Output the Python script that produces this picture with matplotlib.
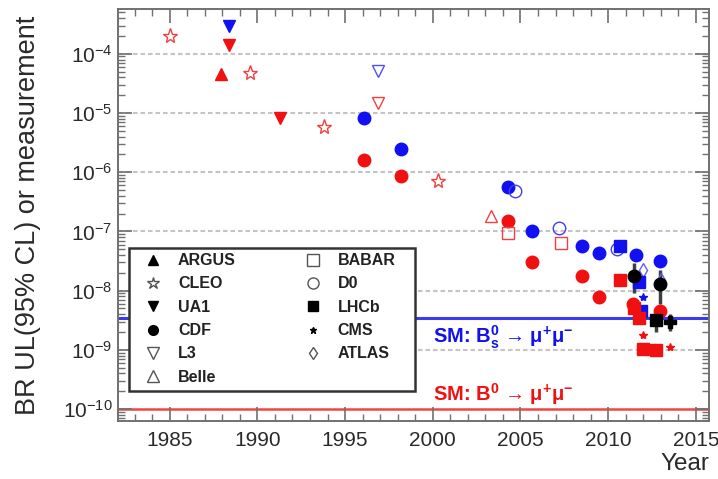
import matplotlib
matplotlib.use("Agg")
import matplotlib.pyplot as plt
from matplotlib.lines import Line2D
from matplotlib.patches import Rectangle
from matplotlib.ticker import LogLocator, MultipleLocator, FixedLocator, NullFormatter
import numpy as np

plt.rcParams['font.family'] = ['Liberation Sans', 'DejaVu Sans']
plt.rcParams['mathtext.fontset'] = 'custom'
plt.rcParams['mathtext.rm'] = 'Liberation Sans'
plt.rcParams['mathtext.it'] = 'Liberation Sans:italic'
plt.rcParams['mathtext.bf'] = 'Liberation Sans:bold'

BLUE = '#1010f0'
RED = '#f01010'

# ---- data: (year, value) per experiment and decay (blue = Bs, red = B0)
cleo_red_year = [1985.0, 1989.6, 1993.8, 2000.3]
cleo_red_val = [2.0e-4, 4.8e-5, 5.9e-6, 7.1e-7]

argus_red_year = [1987.9]
argus_red_val = [4.5e-5]

ua1_blue_year = [1988.4]
ua1_blue_val = [3.0e-4]
ua1_red_year = [1988.4, 1991.3]
ua1_red_val = [1.4e-4, 8.3e-6]

l3_blue_year = [1996.9]
l3_blue_val = [5.2e-5]
l3_red_year = [1996.9]
l3_red_val = [1.45e-5]

cdf_blue_year = [1996.1, 1998.2, 2004.3, 2005.65, 2008.5, 2009.5, 2011.6, 2012.95]
cdf_blue_val = [8.3e-6, 2.5e-6, 5.6e-7, 1.0e-7, 5.6e-8, 4.3e-8, 4.0e-8, 3.2e-8]
cdf_red_year = [1996.1, 1998.2, 2004.3, 2005.65, 2008.5, 2009.5, 2011.4, 2012.95]
cdf_red_val = [1.6e-6, 8.5e-7, 1.5e-7, 3.0e-8, 1.8e-8, 7.9e-9, 6.0e-9, 4.6e-9]

belle_red_year = [2003.3]
belle_red_val = [1.8e-7]

babar_red_year = [2004.3, 2007.3]
babar_red_val = [9.3e-8, 6.4e-8]

d0_blue_year = [2004.7, 2007.2, 2010.5]
d0_blue_val = [4.8e-7, 1.15e-7, 5.0e-8]

lhcb_blue_year = [2010.7, 2011.75, 2011.9]
lhcb_blue_val = [5.7e-8, 1.4e-8, 4.5e-9]
lhcb_red_year = [2010.7, 2011.45, 2011.75, 2012.0, 2012.7]
lhcb_red_val = [1.5e-8, 5.0e-9, 3.4e-9, 1.05e-9, 1.0e-9]

cms_blue_year = [2012.0]
cms_blue_val = [7.7e-9]
cms_red_year = [2012.0, 2013.5]
cms_red_val = [1.8e-9, 1.1e-9]

atlas_blue_year = [2012.0, 2013.0]
atlas_blue_val = [2.2e-8, 1.5e-8]

# measurements (black) with asymmetric errors
meas_cdf_year = [2011.45, 2012.95]
meas_cdf_val = [1.8e-8, 1.3e-8]
meas_cdf_up = [1.1e-8, 0.9e-8]
meas_cdf_dn = [0.9e-8, 0.7e-8]
meas_lhcb_year = [2012.75]
meas_lhcb_val = [3.2e-9]
meas_lhcb_up = [1.5e-9]
meas_lhcb_dn = [1.2e-9]
meas_cms_year = [2013.5]
meas_cms_val = [3.0e-9]
meas_cms_up = [1.0e-9]
meas_cms_dn = [0.9e-9]

sm_bs = 3.4e-9
sm_b0 = 1.0e-10

year_ticks = [1985, 1990, 1995, 2000, 2005, 2010, 2015]
decade_ticks = [1e-10, 1e-9, 1e-8, 1e-7, 1e-6, 1e-5, 1e-4]
legend_labels = ['ARGUS', 'CLEO', 'UA1', 'CDF', 'L3', 'Belle', 'BABAR', 'D0', 'LHCb', 'CMS', 'ATLAS']

W, H = 718, 479
L, R, T, B = 118, 709, 9, 421
fig = plt.figure(figsize=(W/100, H/100), dpi=100)
ax = fig.add_axes([L/W, 1 - B/H, (R-L)/W, (B-T)/H])
ax.set_yscale('log')
ax.set_xlim(1982.05, 2015.75)
ax.set_ylim(6.3e-11, 5.7e-4)

# grid (dashed at decades)
for v in decade_ticks[1:]:
    ax.axhline(v, color='#c4c4c4', lw=1.5, ls=(0, (2.2, 1.4)), zorder=0)

# SM lines
ax.axhline(sm_bs, color='#3a3af5', lw=2.2, zorder=1)
ax.axhline(sm_b0, color='#f04545', lw=1.8, zorder=1)
ax.text(2000.0, 1.31e-9, r'SM: B$_\mathbf{s}^\mathbf{0}$ → μ$^\mathbf{+}$μ$^\mathbf{-}$', color=BLUE,
        fontsize=14.5, fontweight='bold', va='baseline', ha='left')
ax.text(2000.0, 1.36e-10, r'SM: B$^\mathbf{0}$ → μ$^\mathbf{+}$μ$^\mathbf{-}$', color=RED,
        fontsize=14.5, fontweight='bold', va='baseline', ha='left')

ms = 8.5
def pts(x, y, marker, color, filled=True, size=ms, mew=1.0, z=3):
    ax.plot(x, y, ls='none', marker=marker, markersize=size,
            markerfacecolor=color if filled else 'none',
            markeredgecolor=color, markeredgewidth=mew, zorder=z)

def meas(x, y, up, dn, marker, size):
    ax.errorbar(x, y, yerr=[dn, up], fmt='none', ecolor='#404040', elinewidth=2.5, capsize=0, zorder=2)
    ax.plot(x, y, ls='none', marker=marker, markersize=size, color='black', zorder=3.5)

meas(meas_cdf_year, meas_cdf_val, meas_cdf_up, meas_cdf_dn, 'o', 9)
meas(meas_lhcb_year, meas_lhcb_val, meas_lhcb_up, meas_lhcb_dn, 's', 8)
meas(meas_cms_year, meas_cms_val, meas_cms_up, meas_cms_dn, 'P', 8)

pts(cleo_red_year, cleo_red_val, '*', '#f04040', filled=False, size=11)
pts(argus_red_year, argus_red_val, '^', RED)
pts(ua1_blue_year, ua1_blue_val, 'v', BLUE)
pts(ua1_red_year, ua1_red_val, 'v', RED)
pts(l3_blue_year, l3_blue_val, 'v', '#5050f0', filled=False, size=9)
pts(l3_red_year, l3_red_val, 'v', '#f04040', filled=False, size=9)
pts(cdf_blue_year, cdf_blue_val, 'o', BLUE, size=9)
pts(cdf_red_year, cdf_red_val, 'o', RED, size=9)
pts(belle_red_year, belle_red_val, '^', '#f04040', filled=False, size=9)
pts(babar_red_year, babar_red_val, 's', '#f04040', filled=False, size=8.5)
pts(d0_blue_year, d0_blue_val, 'o', '#4040f0', filled=False, size=9)
pts(lhcb_blue_year, lhcb_blue_val, 's', BLUE, size=8)
pts(lhcb_red_year, lhcb_red_val, 's', RED, size=8)
pts(cms_blue_year, cms_blue_val, '*', BLUE, size=6)
pts(cms_red_year, cms_red_val, '*', RED, size=6)
pts(atlas_blue_year, atlas_blue_val, 'd', '#6060f0', filled=False, size=7, z=2.5)

# axes styling (ROOT-like)
for s in ax.spines.values():
    s.set_color('#707070')
    s.set_linewidth(1.4)
ax.xaxis.set_major_locator(FixedLocator(year_ticks))
ax.xaxis.set_minor_locator(MultipleLocator(1))
ax.yaxis.set_major_locator(FixedLocator(decade_ticks))
ax.yaxis.set_minor_locator(LogLocator(base=10, subs=np.arange(2, 10), numticks=200))
ax.yaxis.set_minor_formatter(NullFormatter())
ax.tick_params(which='both', direction='in', top=True, right=True, colors='#707070',
               labelcolor='#2a2a2a', labelsize=15)
ax.tick_params(which='major', length=10, width=1.2)
ax.tick_params(which='minor', length=5, width=1.0)
ax.tick_params(axis='x', pad=7)
ax.tick_params(axis='y', pad=4)

ax.set_ylabel('BR UL(95% CL) or measurement', fontsize=19.5, color='#2a2a2a')
ax.yaxis.set_label_coords(-0.131, 0.5)
ax.set_xlabel('Year', fontsize=17.5, color='#2a2a2a', loc='right', labelpad=2)

# legend box (white, covering the lines behind) + legend entries with black markers
bx0, by0, bx1, by1 = 129, 248, 415, 391
ax.add_patch(Rectangle(((bx0-L)/(R-L), (B-by1)/(B-T)), (bx1-bx0)/(R-L), (by1-by0)/(B-T),
                       transform=ax.transAxes, facecolor='white', edgecolor='#333333',
                       lw=1.8, zorder=4.5))
open_c = '#555555'
handles = [
    Line2D([], [], ls='none', marker='^', color='black', markersize=7),
    Line2D([], [], ls='none', marker='*', markerfacecolor='none', markeredgecolor=open_c, markersize=9),
    Line2D([], [], ls='none', marker='v', color='black', markersize=7),
    Line2D([], [], ls='none', marker='o', color='black', markersize=7),
    Line2D([], [], ls='none', marker='v', markerfacecolor='none', markeredgecolor=open_c, markersize=8),
    Line2D([], [], ls='none', marker='^', markerfacecolor='none', markeredgecolor=open_c, markersize=8),
    Line2D([], [], ls='none', marker='s', markerfacecolor='none', markeredgecolor=open_c, markersize=8),
    Line2D([], [], ls='none', marker='o', markerfacecolor='none', markeredgecolor=open_c, markersize=8),
    Line2D([], [], ls='none', marker='s', color='black', markersize=7),
    Line2D([], [], ls='none', marker='*', color='black', markersize=5),
    Line2D([], [], ls='none', marker='d', markerfacecolor='none', markeredgecolor=open_c, markersize=6),
]
fs = 11.5
fspx = fs * 100 / 72
leg = ax.legend(handles, legend_labels, ncol=2, loc='upper left',
                bbox_to_anchor=((bx0-L)/(R-L), (B-by0+2)/(B-T)),
                prop={'weight': 'bold', 'size': fs}, frameon=False,
                handlelength=33.6/fspx, handletextpad=8.2/fspx,
                labelspacing=0.52, borderpad=0.45, columnspacing=60.0/fspx, borderaxespad=0)
leg.set_zorder(5)
for t in leg.get_texts():
    t.set_color('#222222')

fig.savefig('out.png', dpi=100)
